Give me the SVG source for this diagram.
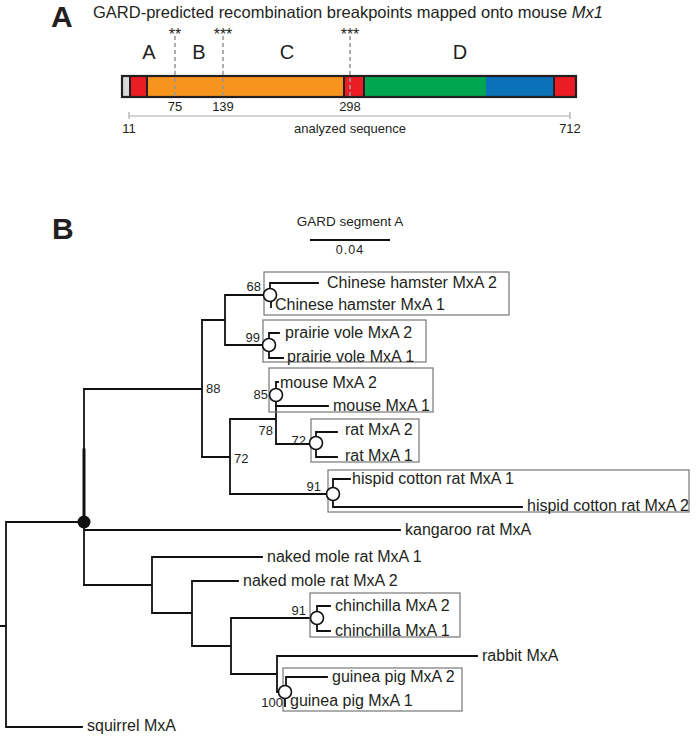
<svg xmlns="http://www.w3.org/2000/svg" width="700" height="736" viewBox="0 0 700 736">
<style>
text{font-family:"Liberation Sans",Arial,sans-serif;fill:#231f20}
.panel{font-size:30px;font-weight:bold}
.title{font-size:16.5px}
.seg{font-size:20px;text-anchor:middle}
.num{font-size:13px;text-anchor:middle}
.star{font-size:16px;text-anchor:middle}
.leaf{font-size:16px}
.bs{font-size:13px}
.br{fill:none;stroke:#111;stroke-width:1.8;stroke-linecap:square}
.box{fill:none;stroke:#777;stroke-width:1.2}
.nd{fill:#fff;stroke:#111;stroke-width:1.6}
.dash{stroke:#999;stroke-width:1.6;stroke-dasharray:4 3}
.div{stroke:#231f20;stroke-width:2}
</style>
<rect width="700" height="736" fill="#fff"/>

<!-- Panel A -->
<g id="panelA">
<text class="panel" x="51" y="27">A</text>
<text class="title" x="93" y="18">GARD-predicted recombination breakpoints mapped onto mouse <tspan font-style="italic">Mx1</tspan></text>
<g id="bar">
<rect x="122" y="76" width="8" height="21" fill="#d9d9d9"/>
<rect x="130" y="76" width="17" height="21" fill="#ec1c24"/>
<rect x="147" y="76" width="197" height="21" fill="#f7941d"/>
<rect x="344" y="76" width="20" height="21" fill="#ec1c24"/>
<rect x="364" y="76" width="122" height="21" fill="#00a651"/>
<rect x="486" y="76" width="68" height="21" fill="#0b72b9"/>
<rect x="554" y="76" width="22" height="21" fill="#ec1c24"/>
<line class="div" x1="130" y1="76" x2="130" y2="97"/>
<line class="div" x1="147" y1="76" x2="147" y2="97"/>
<line class="div" x1="344" y1="76" x2="344" y2="97"/>
<line class="div" x1="364" y1="76" x2="364" y2="97"/>
<line class="div" x1="554" y1="76" x2="554" y2="97"/>
<rect x="122" y="76" width="454" height="21" fill="none" stroke="#231f20" stroke-width="2.2"/>
</g>
<g id="breakpoints">
<line class="dash" x1="175" y1="36" x2="175" y2="98"/>
<line class="dash" x1="223" y1="36" x2="223" y2="98"/>
<line class="dash" x1="350" y1="36" x2="350" y2="98"/>
<text class="star" x="175" y="40">**</text>
<text class="star" x="223" y="40">***</text>
<text class="star" x="350" y="40">***</text>
<text class="num" x="175" y="111">75</text>
<text class="num" x="223" y="111">139</text>
<text class="num" x="350" y="111">298</text>
</g>
<text class="seg" x="149" y="59">A</text>
<text class="seg" x="199" y="59">B</text>
<text class="seg" x="287" y="59">C</text>
<text class="seg" x="460" y="59">D</text>
<g id="axis" stroke="#aaa" stroke-width="1.2">
<line x1="129" y1="116" x2="570" y2="116"/>
<line x1="129" y1="112" x2="129" y2="119"/>
<line x1="570" y1="112" x2="570" y2="119"/>
</g>
<text class="num" x="129" y="133">11</text>
<text class="num" x="350" y="133">analyzed sequence</text>
<text class="num" x="570" y="133">712</text>
</g>

<!-- Panel B -->
<text class="panel" x="52" y="239">B</text>
<g id="scale">
<text x="350" y="226" style="font-size:13.5px;text-anchor:middle">GARD segment A</text>
<line x1="310" y1="240" x2="390" y2="240" stroke="#111" stroke-width="1.8"/>
<text x="350" y="254" style="font-size:12.5px;text-anchor:middle;letter-spacing:1px">0.04</text>
</g>

<g id="connectors" class="br">
<!-- root -->
<path d="M0,626 H6 M6,522 V727 H82 M6,522 H84"/>
<!-- black dot node -->
<path d="M84,389 V585 M84,530 H400"/>
<line x1="84" y1="450" x2="84" y2="522" stroke-width="3"/>
<!-- node 88 -->
<path d="M84,389 H202 M202,320 V457"/>
<path d="M202,320 H225 M225,295 V345 M225,295 H264 M225,345 H262"/>
<!-- hamster -->
<path d="M270,295 V283 H318 M271,300 V307"/>
<!-- vole -->
<path d="M269,345 V333 H279 M269,345 V358 H283"/>
<!-- node 72 -->
<path d="M202,457 H230 M230,419 V494 M230,419 H276 M276,395 V444 M276,444 H310"/>
<!-- mouse -->
<path d="M276,389 V382 H278 M276,406 H328"/>
<!-- rat -->
<path d="M316,443 V432 H337 M316,443 V457 H337"/>
<!-- hispid -->
<path d="M230,494 H327 M333,494 V479 H350 M333,494 V507 H522"/>
<!-- lower clade -->
<path d="M84,585 H152 M152,557 V613 M152,557 H262 M152,613 H192 M192,581 V646 M192,581 H238 M192,646 H231 M231,618 V674 M231,618 H311 M231,674 H277 M277,656 V692 M277,656 H477 M277,692 H279"/>
<!-- chinchilla -->
<path d="M317,618 V606 H330 M317,618 V631 H330"/>
<!-- guinea pig -->
<path d="M286,692 V677 H327 M285,699 V706"/>
</g>

<g id="boxes">
<rect id="box-hamster" class="box" x="264" y="272" width="245" height="43"/>
<rect id="box-vole" class="box" x="263" y="320" width="163" height="42"/>
<rect id="box-mouse" class="box" x="269" y="368" width="164" height="44"/>
<rect id="box-rat" class="box" x="311" y="419" width="108" height="43"/>
<rect id="box-hispid" class="box" x="328" y="470" width="361" height="42"/>
<rect id="box-chinchilla" class="box" x="310" y="593" width="150" height="44"/>
<rect id="box-guinea" class="box" x="283" y="668" width="179" height="43"/>
</g>

<g id="internal-nodes">
<g id="n-hamster"><circle class="nd" cx="270" cy="295" r="6.5"/><text class="bs" x="261" y="291" text-anchor="end">68</text></g>
<g id="n-vole"><circle class="nd" cx="269" cy="345" r="6.5"/><text class="bs" x="260" y="342" text-anchor="end">99</text></g>
<g id="n-88"><text class="bs" x="206" y="393">88</text></g>
<g id="n-mouse"><circle class="nd" cx="276" cy="395" r="6.5"/><text class="bs" x="268" y="399" text-anchor="end">85</text></g>
<g id="n-78"><text class="bs" x="273" y="435" text-anchor="end">78</text></g>
<g id="n-rat"><circle class="nd" cx="316" cy="443" r="6.5"/><text class="bs" x="306" y="445" text-anchor="end">72</text></g>
<g id="n-72"><text class="bs" x="234" y="463">72</text></g>
<g id="n-hispid"><circle class="nd" cx="333" cy="494" r="6.5"/><text class="bs" x="321" y="491" text-anchor="end">91</text></g>
<g id="n-root"><circle cx="84" cy="522" r="6.5" fill="#111"/></g>
<g id="n-chinchilla"><circle class="nd" cx="317" cy="618" r="6.5"/><text class="bs" x="306" y="615" text-anchor="end">91</text></g>
<g id="n-guinea"><circle class="nd" cx="285" cy="692" r="6.5"/><text class="bs" x="283" y="707" text-anchor="end">100</text></g>
</g>

<g id="leaves">
<g id="leaf-hamster2"><text class="leaf" x="327" y="288">Chinese hamster MxA 2</text></g>
<g id="leaf-hamster1"><text class="leaf" x="275" y="310">Chinese hamster MxA 1</text></g>
<g id="leaf-vole2"><text class="leaf" x="285" y="338">prairie vole MxA 2</text></g>
<g id="leaf-vole1"><text class="leaf" x="287" y="362">prairie vole MxA 1</text></g>
<g id="leaf-mouse2"><text class="leaf" x="280" y="388">mouse MxA 2</text></g>
<g id="leaf-mouse1"><text class="leaf" x="333" y="411">mouse MxA 1</text></g>
<g id="leaf-rat2"><text class="leaf" x="345" y="435">rat MxA 2</text></g>
<g id="leaf-rat1"><text class="leaf" x="345" y="461">rat MxA 1</text></g>
<g id="leaf-hispid1"><text class="leaf" x="352" y="484">hispid cotton rat MxA 1</text></g>
<g id="leaf-hispid2"><text class="leaf" x="527" y="511">hispid cotton rat MxA 2</text></g>
<g id="leaf-kangaroo"><text class="leaf" x="405" y="535">kangaroo rat MxA</text></g>
<g id="leaf-nmr1"><text class="leaf" x="267" y="562">naked mole rat MxA 1</text></g>
<g id="leaf-nmr2"><text class="leaf" x="243" y="586">naked mole rat MxA 2</text></g>
<g id="leaf-chin2"><text class="leaf" x="335" y="611">chinchilla MxA 2</text></g>
<g id="leaf-chin1"><text class="leaf" x="335" y="636">chinchilla MxA 1</text></g>
<g id="leaf-rabbit"><text class="leaf" x="482" y="661">rabbit MxA</text></g>
<g id="leaf-guinea2"><text class="leaf" x="332" y="682">guinea pig MxA 2</text></g>
<g id="leaf-guinea1"><text class="leaf" x="290" y="706">guinea pig MxA 1</text></g>
<g id="leaf-squirrel"><text class="leaf" x="87" y="731">squirrel MxA</text></g>
</g>
</svg>
